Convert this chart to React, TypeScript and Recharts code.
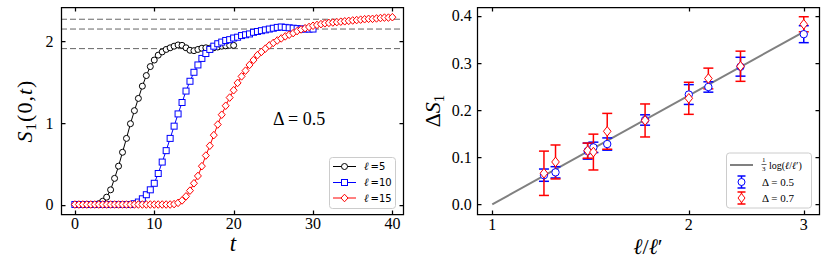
import { ComposedChart, Line, Scatter, XAxis, YAxis, ReferenceLine, ErrorBar } from "recharts"

// left panel: S_1(0,t), sampled every dt
const dt = 0.5
const sL5 = [
  0, 0, 0, 0, 0, 0, 0.01, 0.04, 0.09, 0.18, 0.32, 0.47, 0.64, 0.81, 0.99, 1.15, 1.3, 1.45, 1.58, 1.69, 1.77,
  1.83, 1.87, 1.9, 1.92, 1.94, 1.955, 1.95, 1.92, 1.89, 1.885, 1.9, 1.915, 1.92, 1.915, 1.92, 1.93, 1.94,
  1.945, 1.95, 1.95,
]
const sL10 = [
  0, 0, 0, 0, 0, 0, 0, 0, 0, 0, 0, 0, 0, 0, 0, 0.01, 0.03, 0.07, 0.12, 0.18, 0.26, 0.38, 0.52, 0.66, 0.81,
  0.96, 1.11, 1.25, 1.39, 1.51, 1.62, 1.71, 1.79, 1.85, 1.9, 1.94, 1.97, 1.99, 2.01, 2.02, 2.04, 2.05, 2.07,
  2.08, 2.09, 2.11, 2.12, 2.13, 2.14, 2.15, 2.16, 2.17, 2.175, 2.17, 2.165, 2.16, 2.155, 2.15, 2.15, 2.15,
  2.15,
]
const sL15 = [
  0, 0, 0, 0, 0, 0, 0, 0, 0, 0, 0, 0, 0, 0, 0, 0, 0, 0, 0, 0, 0, 0, 0, 0, 0, 0.005, 0.02, 0.05, 0.1, 0.17,
  0.26, 0.35, 0.47, 0.6, 0.72, 0.85, 0.98, 1.1, 1.21, 1.31, 1.4, 1.49, 1.57, 1.64, 1.71, 1.77, 1.83, 1.87,
  1.91, 1.95, 1.98, 2.01, 2.035, 2.06, 2.08, 2.1, 2.125, 2.145, 2.16, 2.175, 2.19, 2.2, 2.21, 2.22, 2.225,
  2.23, 2.235, 2.24, 2.245, 2.25, 2.255, 2.26, 2.265, 2.27, 2.275, 2.275, 2.28, 2.285, 2.29, 2.29, 2.295,
]
const plateaus = [1.91, 2.15, 2.27]
const tTicks = [0, 10, 20, 30, 40]
const sTicks = [0, 1, 2]
const tDomain: [number, number] = [-1.75, 41.3]
const sDomain: [number, number] = [-0.12, 2.42]

// right panel: Delta S_1 vs l/l'
const ratio = [1.2, 1.25, 1.4, 1.4286, 1.5, 1.7143, 2, 2.1429, 2.4, 3]
const dS05 = [0.062, 0.068, 0.113, 0.121, 0.128, 0.179, 0.233, 0.249, 0.292, 0.361]
const err05 = [0.013, 0.012, 0.017, 0.011, 0.013, 0.011, 0.021, 0.011, 0.02, 0.018]
const dS07 = [0.066, 0.09, 0.114, 0.111, 0.155, 0.178, 0.225, 0.267, 0.293, 0.382]
const err07 = [0.047, 0.036, 0.016, 0.038, 0.038, 0.035, 0.034, 0.022, 0.032, 0.016]
const fitX = [1, 3]
const fitY = [0, 0.366]
const ratioTicks = [1, 2, 3]
const dTicks = [0, 0.1, 0.2, 0.3, 0.4]
const rDomain: [number, number] = [0.9466, 3.169]
const dDomain: [number, number] = [-0.021, 0.418]

const serif = "Liberation Serif, DejaVu Serif, serif"
const sans = "DejaVu Sans, sans-serif"
const BLUE = "#0000ff"
const RED = "#ff0000"

// layout of the two panels (chart box + margins); the frame overlay reuses it
const L = { left: 0, w: 420, h: 260, m: { top: 7, right: 17.3, bottom: 15.7, left: 0 }, yw: 61, xh: 30 }
const R = { left: 420, w: 410, h: 260, m: { top: 7.3, right: 10.7, bottom: 15.7, left: 0 }, yw: 56.7, xh: 30 }
const plotBox = (p: typeof L) => ({
  x0: p.left + p.m.left + p.yw,
  x1: p.left + p.w - p.m.right,
  y0: p.m.top,
  y1: p.h - p.m.bottom - p.xh,
})

const toSeries = (vals: number[]) => vals.map((s, i) => ({ t: i * dt, s }))
const d5 = toSeries(sL5)
const d10 = toSeries(sL10)
const d15 = toSeries(sL15)
const blueRows = ratio.map((x, i) => ({ x, y: dS05[i], e: err05[i] }))
const redRows = ratio.map((x, i) => ({ x, y: dS07[i], e: err07[i] }))
const fitRows = fitX.map((x, i) => ({ x, y: fitY[i] }))

const tick = { fontFamily: serif, fontSize: 16, fill: "#000" }
const axisProps = { axisLine: false, tickLine: false, tickSize: 0, interval: 0 as const, allowDataOverflow: true }

const circle = (color: string, r: number) => (p: any) =>
  <circle key={p.key ?? `${p.cx}-${p.cy}`} cx={p.cx} cy={p.cy} r={r} fill="#fff" stroke={color} strokeWidth={1} />
const square = (color: string, h: number) => (p: any) =>
  <rect key={p.key ?? `${p.cx}-${p.cy}`} x={p.cx - h} y={p.cy - h} width={2 * h} height={2 * h} fill="#fff" stroke={color} strokeWidth={1} />
const diamond = (color: string, w: number, h: number) => (p: any) =>
  <polygon
    key={p.key ?? `${p.cx}-${p.cy}`}
    points={`${p.cx},${p.cy - h} ${p.cx + w},${p.cy} ${p.cx},${p.cy + h} ${p.cx - w},${p.cy}`}
    fill="#fff"
    stroke={color}
    strokeWidth={1}
  />

function LeftPanel() {
  return (
    <ComposedChart width={L.w} height={L.h} margin={L.m}>
      <XAxis {...axisProps} type="number" dataKey="t" domain={tDomain} ticks={tTicks} height={L.xh} tickMargin={3} tick={tick} />
      <YAxis {...axisProps} type="number" dataKey="s" domain={sDomain} ticks={sTicks} width={L.yw} tickMargin={7.5} tick={tick} />
      {plateaus.map((v) => (
        <ReferenceLine key={v} y={v} stroke="#666" strokeWidth={1} strokeDasharray="6 3" />
      ))}
      <Line data={d5} dataKey="s" type="linear" stroke="#000" strokeWidth={1} dot={circle("#000", 3)} isAnimationActive={false} />
      <Line data={d10} dataKey="s" type="linear" stroke={BLUE} strokeWidth={1} dot={square(BLUE, 3)} isAnimationActive={false} />
      <Line data={d15} dataKey="s" type="linear" stroke={RED} strokeWidth={1} dot={diamond(RED, 3.5, 3.8)} isAnimationActive={false} />
    </ComposedChart>
  )
}

function RightPanel() {
  return (
    <ComposedChart width={R.w} height={R.h} margin={R.m}>
      <XAxis {...axisProps} type="number" dataKey="x" scale="log" domain={rDomain} ticks={ratioTicks} height={R.xh} tickMargin={4} tick={tick} />
      <YAxis {...axisProps} type="number" dataKey="y" domain={dDomain} ticks={dTicks} width={R.yw} tickMargin={5} tick={tick}
        tickFormatter={(v: number) => v.toFixed(1)} />
      <Line data={fitRows} dataKey="y" type="linear" stroke="#808080" strokeWidth={2} dot={false} isAnimationActive={false} />
      <Scatter data={blueRows} dataKey="y" shape={circle(BLUE, 3.7)} isAnimationActive={false}>
        <ErrorBar dataKey="e" direction="y" width={5} stroke={BLUE} strokeWidth={1.5} />
      </Scatter>
      <Scatter data={redRows} dataKey="y" shape={diamond(RED, 3.8, 4.8)} isAnimationActive={false}>
        <ErrorBar dataKey="e" direction="y" width={5} stroke={RED} strokeWidth={1.5} />
      </Scatter>
    </ComposedChart>
  )
}

// box around a plot with short inward ticks on all four sides (matplotlib style)
const snap = (v: number) => Math.round(v) + 0.5

function Frame({ p, xd, yd, xt, yt, logX }: {
  p: typeof L; xd: [number, number]; yd: [number, number]; xt: number[]; yt: number[]; logX?: boolean
}) {
  const b = plotBox(p)
  const f = (v: number) => (logX ? Math.log(v) : v)
  const px = (v: number) => snap(b.x0 + ((f(v) - f(xd[0])) / (f(xd[1]) - f(xd[0]))) * (b.x1 - b.x0))
  const py = (v: number) => snap(b.y1 - ((v - yd[0]) / (yd[1] - yd[0])) * (b.y1 - b.y0))
  const X0 = snap(b.x0), X1 = snap(b.x1), Y0 = snap(b.y0), Y1 = snap(b.y1)
  const k = 4
  const d = [
    `M${X0},${Y0}H${X1}V${Y1}H${X0}Z`,
    ...xt.map((v) => `M${px(v)},${Y1}v${-k}M${px(v)},${Y0}v${k}`),
    ...yt.map((v) => `M${X0},${py(v)}h${k}M${X1},${py(v)}h${-k}`),
  ].join("")
  return <path d={d} stroke="#000" strokeWidth={1.25} fill="none" />
}

function Overlay() {
  return (
    <svg width={830} height={260} style={{ position: "absolute", left: 0, top: 0, pointerEvents: "none", fontFamily: serif }}>
      <Frame p={L} xd={tDomain} yd={sDomain} xt={tTicks} yt={sTicks} />
      <Frame p={R} xd={rDomain} yd={dDomain} xt={ratioTicks} yt={dTicks} logX />

      {/* axis labels */}
      <text transform="translate(32,111) rotate(-90)" textAnchor="middle" fontSize={22} letterSpacing={1}>
        <tspan fontStyle="italic">S</tspan>
        <tspan fontSize={15} dy={4}>1</tspan>
        <tspan dy={-4}>(0,</tspan>
        <tspan fontStyle="italic">t</tspan>
        <tspan>)</tspan>
      </text>
      <text x={233} y={251} textAnchor="middle" fontSize={23} fontStyle="italic">t</text>
      <text transform="translate(440,111) rotate(-90)" textAnchor="middle" fontSize={22}>
        <tspan>Δ</tspan>
        <tspan fontStyle="italic">S</tspan>
        <tspan fontSize={15} dy={4}>1</tspan>
      </text>
      <text x={648} y={254} textAnchor="middle" fontSize={22}>
        <tspan fontStyle="italic">ℓ</tspan>
        <tspan>/</tspan>
        <tspan fontStyle="italic">ℓ</tspan>
        <tspan>′</tspan>
      </text>
      <text x={273} y={125} fontSize={18} xmlSpace="preserve">Δ = 0.5</text>

      {/* left legend */}
      <rect x={329.5} y={157.5} width={66} height={51} rx={3} fill="#fff" fillOpacity={0.8} stroke="#ccc" />
      {[
        { y: 166.5, c: "#000", n: "5", m: circle("#000", 3) },
        { y: 182.5, c: BLUE, n: "10", m: square(BLUE, 3) },
        { y: 198, c: RED, n: "15", m: diamond(RED, 3.5, 3.8) },
      ].map((r) => (
        <g key={r.n}>
          <line x1={333} x2={356} y1={r.y} y2={r.y} stroke={r.c} strokeWidth={1} />
          {r.m({ cx: 344.5, cy: r.y })}
          <text x={364} y={r.y + 3.5} fontSize={10}>
            <tspan fontStyle="italic" fontSize={11}>ℓ</tspan>
            <tspan fontFamily={sans} dx={2}>=</tspan>
            <tspan fontFamily={sans}>{r.n}</tspan>
          </text>
        </g>
      ))}

      {/* right legend */}
      <rect x={726.5} y={153} width={85} height={55} rx={3} fill="#fff" fillOpacity={0.8} stroke="#ccc" />
      <line x1={730} x2={753} y1={165} y2={165} stroke="#808080" strokeWidth={2} />
      <text x={762} y={162} fontSize={7}>1</text>
      <line x1={761.5} x2={766.5} y1={164.5} y2={164.5} stroke="#000" strokeWidth={0.6} />
      <text x={762} y={170.5} fontSize={7}>3</text>
      <text x={769} y={168.5} fontSize={10}>
        log(<tspan fontStyle="italic">ℓ</tspan>/<tspan fontStyle="italic">ℓ</tspan>′)
      </text>
      {[
        { y: 182, c: BLUE, txt: "Δ = 0.5", m: circle(BLUE, 3.5) },
        { y: 198, c: RED, txt: "Δ = 0.7", m: diamond(RED, 3.5, 4.5) },
      ].map((r) => (
        <g key={r.txt}>
          <line x1={741.5} x2={741.5} y1={r.y - 6} y2={r.y + 6} stroke={r.c} strokeWidth={1.5} />
          <line x1={737.5} x2={745.5} y1={r.y - 6} y2={r.y - 6} stroke={r.c} strokeWidth={1.5} />
          <line x1={737.5} x2={745.5} y1={r.y + 6} y2={r.y + 6} stroke={r.c} strokeWidth={1.5} />
          {r.m({ cx: 741.5, cy: r.y })}
          <text x={762} y={r.y + 4} fontSize={11} xmlSpace="preserve">{r.txt}</text>
        </g>
      ))}
    </svg>
  )
}

export default function App() {
  return (
    <div style={{ position: "absolute", left: 0, top: 0, width: 830, height: 260, background: "#fff" }}>
      <div style={{ position: "absolute", left: L.left, top: 0 }}>
        <LeftPanel />
      </div>
      <div style={{ position: "absolute", left: R.left, top: 0 }}>
        <RightPanel />
      </div>
      <Overlay />
    </div>
  )
}
